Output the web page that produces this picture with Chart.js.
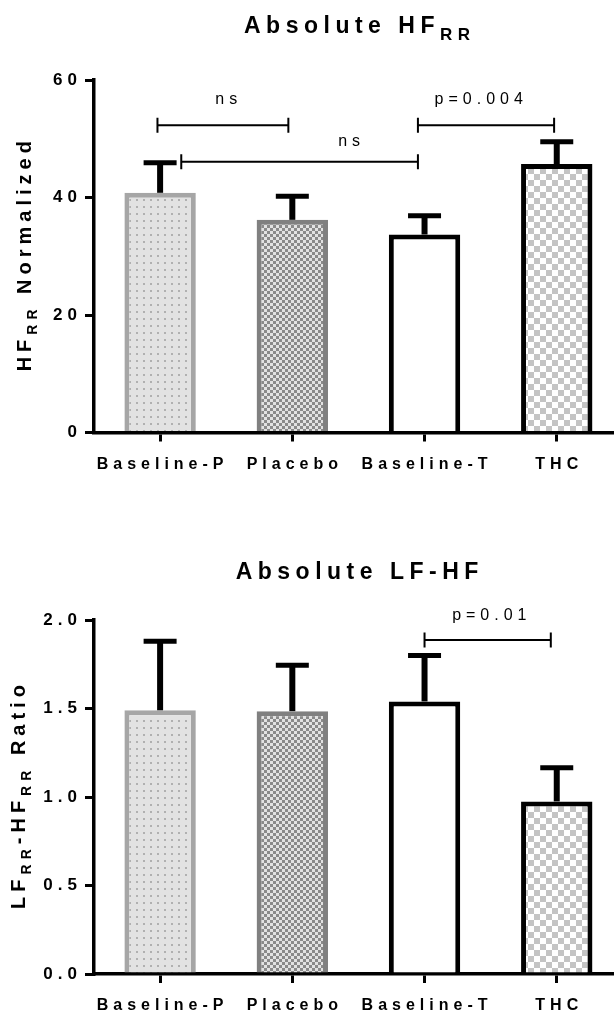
<!DOCTYPE html>
<html>
<head>
<meta charset="utf-8">
<script src="https://cdn.jsdelivr.net/npm/chart.js@4.4.1/dist/chart.umd.min.js"></script>
<style>
  html, body { margin: 0; padding: 0; background: #fff; }
  canvas { display: block; }
</style>
</head>
<body>
<canvas id="hf" width="614" height="500"></canvas>
<canvas id="lfhf" width="614" height="513"></canvas>
<script>
const groups = ['Baseline-P', 'Placebo', 'Baseline-T', 'THC'];

// Absolute HF_RR, normalized (mean + upper SEM)
const hfMean = [40.8, 36.2, 33.7, 45.7];
const hfSem = [5.1, 4.0, 3.2, 3.8];
const hfTicks = [0, 20, 40, 60];
// [from, to, y, label, labelX, labelY]  (x in group index, y in data units)
const hfBrackets = [
  [-0.02, 0.97, 52.3, 'ns', 0.5, 55.9],
  [0.16, 1.95, 46.1, 'ns', 1.43, 48.8],
  [1.95, 2.98, 52.3, 'p=0.004', 2.41, 55.9]
];

// Absolute LF-HF ratio
const ratioMean = [1.49, 1.485, 1.54, 0.975];
const ratioSem = [0.39, 0.26, 0.26, 0.19];
const ratioTicks = [0, 0.5, 1.0, 1.5, 2.0];
const ratioBrackets = [
  [2.0, 2.955, 1.887, 'p=0.01', 2.49, 2.0]
];

const FONT = "'Liberation Sans', Arial, Helvetica, sans-serif";
const SP = 5;

function spaced(ctx, text, x, y, align, spacing) {
  ctx.letterSpacing = spacing + 'px';
  const w = ctx.measureText(text).width - spacing;
  ctx.textAlign = 'left';
  let x0 = x;
  if (align === 'center') x0 = x - w / 2;
  if (align === 'right') x0 = x - w;
  ctx.fillText(text, x0, y);
  return w;
}

// segments: [text, size, dy]
function richText(ctx, segs, x, y, spacing) {
  ctx.letterSpacing = spacing + 'px';
  const widths = segs.map(s => {
    ctx.font = `bold ${s[1]}px ${FONT}`;
    return ctx.measureText(s[0]).width;
  });
  const total = widths.reduce((a, b) => a + b, 0) - spacing;
  let cx = x - total / 2;
  ctx.textAlign = 'left';
  segs.forEach((s, i) => {
    ctx.font = `bold ${s[1]}px ${FONT}`;
    ctx.fillText(s[0], cx, y + s[2]);
    cx += widths[i];
  });
}

function makePatterns(ctx) {
  const pat = (size, paint) => {
    const c = document.createElement('canvas');
    c.width = c.height = size;
    paint(c.getContext('2d'));
    return ctx.createPattern(c, 'repeat');
  };
  const dots = pat(7, g => {
    g.fillStyle = '#e2e2e2'; g.fillRect(0, 0, 7, 7);
    g.fillStyle = '#b0b0b0'; g.fillRect(3, 3, 2, 2);
  });
  const fine = pat(6, g => {
    g.fillStyle = '#e2e2e2'; g.fillRect(0, 0, 6, 6);
    g.fillStyle = '#8a8a8a'; g.fillRect(0, 0, 3, 3); g.fillRect(3, 3, 3, 3);
  });
  const big = pat(12, g => {
    g.fillStyle = '#ffffff'; g.fillRect(0, 0, 12, 12);
    g.fillStyle = '#c4c4c4'; g.fillRect(0, 0, 6, 6); g.fillRect(6, 6, 6, 6);
  });
  return [dots, fine, '#ffffff', big];
}

const spacingPlugin = {
  id: 'spacing',
  beforeDraw(chart) { chart.ctx.letterSpacing = SP + 'px'; }
};

const errorBars = {
  id: 'errorBars',
  afterDatasetsDraw(chart, args, o) {
    const { ctx, scales: { x, y } } = chart;
    ctx.save();
    ctx.strokeStyle = '#000';
    o.mean.forEach((m, i) => {
      const px = x.getPixelForValue(i);
      const yb = y.getPixelForValue(m);
      const yt = y.getPixelForValue(m + o.sem[i]);
      ctx.lineWidth = 6;
      ctx.beginPath(); ctx.moveTo(px, yb); ctx.lineTo(px, yt); ctx.stroke();
      ctx.lineWidth = 5;
      ctx.beginPath(); ctx.moveTo(px - 16.5, yt); ctx.lineTo(px + 16.5, yt); ctx.stroke();
    });
    ctx.restore();
  }
};

const decor = {
  id: 'decor',
  afterDraw(chart, args, o) {
    const { ctx, scales: { x, y }, chartArea } = chart;
    ctx.save();
    ctx.fillStyle = '#000';
    ctx.textBaseline = 'alphabetic';
    // title
    richText(ctx, o.title, 357, o.titleY, 5.5);
    // y axis title
    ctx.save();
    ctx.translate(o.yTitleX, (chartArea.top + chartArea.bottom) / 2);
    ctx.rotate(-Math.PI / 2);
    richText(ctx, o.yTitle, 0, 0, 5);
    ctx.restore();
    // significance brackets
    ctx.strokeStyle = '#000';
    ctx.lineWidth = 2;
    ctx.font = `16px ${FONT}`;
    o.brackets.forEach(b => {
      const x1 = x.getPixelForValue(b[0]);
      const x2 = x.getPixelForValue(b[1]);
      const yy = y.getPixelForValue(b[2]);
      ctx.beginPath();
      ctx.moveTo(x1, yy); ctx.lineTo(x2, yy);
      ctx.moveTo(x1, yy - 7.5); ctx.lineTo(x1, yy + 7.5);
      ctx.moveTo(x2, yy - 7.5); ctx.lineTo(x2, yy + 7.5);
      ctx.stroke();
      spaced(ctx, b[3], x.getPixelForValue(b[4]), y.getPixelForValue(b[5]), 'center', 5);
    });
    ctx.restore();
  }
};

function barChart(id, cfg) {
  const canvas = document.getElementById(id);
  const ctx = canvas.getContext('2d');
  const axisGrid = { drawOnChartArea: false, tickLength: 9, lineWidth: 3, color: '#000', offset: false };
  const axisBorder = { display: true, width: 3.5, color: '#000' };
  return new Chart(canvas, {
    type: 'bar',
    data: {
      datasets: [{
        data: cfg.mean.map((v, i) => ({ x: i, y: v })),
        backgroundColor: makePatterns(ctx),
        borderColor: ['#a6a6a6', '#808080', '#000000', '#000000'],
        borderWidth: 5,
        borderSkipped: 'start',
        categoryPercentage: 0.54,
        barPercentage: 1
      }]
    },
    options: {
      responsive: false,
      animation: false,
      devicePixelRatio: 1,
      layout: { padding: { top: cfg.top, left: 0, right: 0, bottom: 0 } },
      plugins: {
        legend: { display: false },
        tooltip: { enabled: false },
        errorBars: { mean: cfg.mean, sem: cfg.sem },
        decor: { title: cfg.title, titleY: cfg.titleY, yTitle: cfg.yTitle, yTitleX: cfg.yTitleX, brackets: cfg.brackets }
      },
      scales: {
        x: {
          type: 'linear', min: -0.5, max: 3.433, offset: false, z: 1,
          grid: axisGrid, border: axisBorder,
          afterBuildTicks: s => { s.ticks = groups.map((g, i) => ({ value: i })); },
          afterFit: s => { s.height = cfg.xHeight; },
          ticks: {
            callback: v => groups[v],
            font: { family: FONT, size: 16, weight: 'bold' },
            color: '#000', padding: 13, labelOffset: 2.5,
            maxRotation: 0, autoSkip: false
          }
        },
        y: {
          min: 0, max: cfg.max, z: 1,
          grid: axisGrid, border: axisBorder,
          afterBuildTicks: s => { s.ticks = cfg.ticks.map(v => ({ value: v })); },
          afterFit: s => { s.width = 94; },
          ticks: {
            callback: cfg.fmt,
            font: { family: FONT, size: 17, weight: 'bold' },
            color: '#000', padding: 3
          }
        }
      }
    },
    plugins: [spacingPlugin, errorBars, decor]
  });
}

barChart('hf', {
  mean: hfMean, sem: hfSem, ticks: hfTicks, max: 60, brackets: hfBrackets,
  fmt: v => String(v), top: 80, xHeight: 67.5,
  title: [['Absolute HF', 23, 0], ['RR', 17, 7]], titleY: 33,
  yTitle: [['HF', 20, 0], ['RR', 14, 6], [' Normalized', 20, 0]], yTitleX: 31
});

barChart('lfhf', {
  mean: ratioMean, sem: ratioSem, ticks: ratioTicks, max: 2, brackets: ratioBrackets,
  fmt: v => v.toFixed(1), top: 120, xHeight: 39,
  title: [['Absolute LF-HF', 23, 0]], titleY: 79,
  yTitle: [['LF', 20, 0], ['RR', 14, 6], ['-HF', 20, 0], ['RR', 14, 6], [' Ratio', 20, 0]], yTitleX: 25
});
</script>
</body>
</html>
